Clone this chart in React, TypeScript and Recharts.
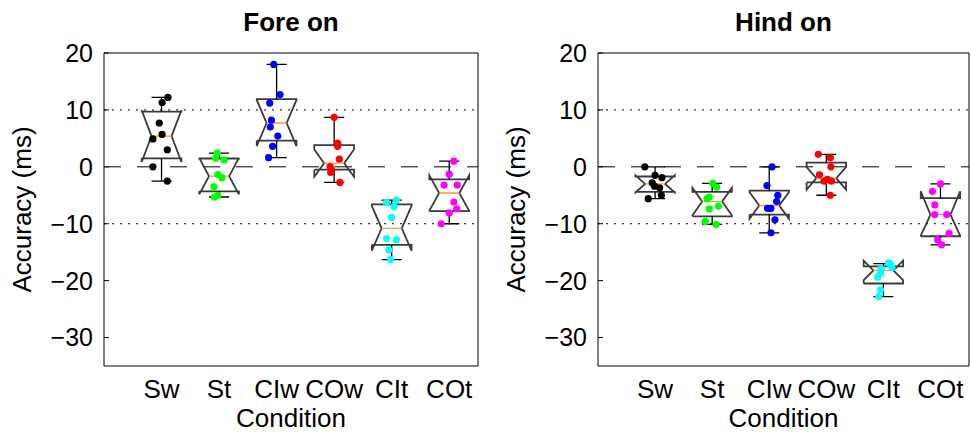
import React from 'react';
import {ComposedChart, Line, ReferenceLine, Scatter, XAxis, YAxis} from 'recharts';

const conditions = ['Sw', 'St', 'CIw', 'COw', 'CIt', 'COt'];
const groupColors = ['#000000', '#00ff00', '#0000ff', '#ff0000', '#00ffff', '#ff00ff'];
const yTicks = [-30, -20, -10, 0, 10, 20];
const xTicks = [1, 2, 3, 4, 5, 6];

// Fore on
const foreQ3 = [9.7, 1.46, 11.9, 3.8, -6.6, -2.2];
const foreMedian = [5.4, -1.64, 7.7, 0.64, -10.8, -4.6];
const foreQ1 = [1.5, -4.3, 4.6, -0.5, -13.7, -7.8];
const foreNotchHi = [9.95, 1.56, 11.75, 3.03, -6.86, -1.5];
const foreNotchLo = [0.85, -4.84, 3.65, -1.75, -14.74, -7.7];
const foreWhiskerHi = [12.2, 2.4, 18.0, 8.7, -5.85, 1.0];
const foreWhiskerLo = [-2.5, -5.3, 1.6, -2.75, -16.3, -10.0];
const forePoints = [
    [12.2, 11.3, 7.7, 5.7, 4.9, 3.0, 0.0, -2.5],
    [2.4, 1.5, 1.2, -1.35, -1.9, -3.5, -5.0, -5.3],
    [18.0, 12.7, 11.2, 8.2, 7.0, 5.4, 3.6, 1.6],
    [8.7, 4.15, 3.6, 1.34, 0.06, -0.3, -1.0, -2.75],
    [-5.85, -6.3, -7.0, -8.9, -12.6, -12.8, -14.6, -16.3],
    [1.0, -1.3, -3.2, -3.2, -6.2, -7.4, -8.1, -10.0],
];
const foreJitter = [
    [0.11, 0.01, -0.04, 0.01, -0.15, 0.10, -0.15, 0.10],
    [-0.03, -0.06, 0.09, -0.02, 0.05, -0.09, -0.02, -0.08],
    [-0.05, 0.06, -0.12, -0.09, -0.11, 0.02, -0.07, -0.14],
    [0, 0.06, 0.06, 0.09, -0.07, -0.05, -0.06, 0.10],
    [0.08, -0.09, 0.04, 0, -0.09, 0.08, -0.05, -0.02],
    [0.08, 0, -0.09, 0.14, 0.08, 0.13, 0, -0.14],
];

// Hind on
const hindQ3 = [-1.7, -4.4, -4.2, 0.75, -17.5, -5.5];
const hindMedian = [-3.0, -6.1, -6.8, -2.0, -18.2, -8.4];
const hindQ1 = [-4.4, -8.7, -8.4, -2.75, -20.5, -12.2];
const hindNotchHi = [-1.5, -3.7, -4.47, -0.06, -16.5, -4.3];
const hindNotchLo = [-4.5, -8.5, -9.13, -4.0, -19.9, -12.1];
const hindWhiskerHi = [0, -2.9, 0, 2.2, -17.0, -3.0];
const hindWhiskerLo = [-5.6, -10.1, -11.6, -5.0, -22.8, -13.7];
const hindPoints = [
    [0, -1.5, -1.9, -2.8, -3.4, -3.7, -5.0, -5.6],
    [-2.9, -3.6, -5.3, -5.6, -6.9, -7.4, -9.6, -10.1],
    [0, -3.3, -5.0, -6.1, -7.3, -7.3, -9.3, -11.6],
    [2.2, 1.6, 0, -1.4, -2.2, -2.5, -2.5, -5.0],
    [-16.9, -17.0, -17.7, -17.9, -18.7, -19.4, -21.6, -22.8],
    [-3.0, -4.3, -6.7, -8.4, -8.4, -11.7, -12.8, -13.7],
];
const hindJitter = [
    [-0.18, 0, 0.12, -0.05, -0.01, 0.08, 0.11, -0.12],
    [0.01, 0.08, -0.05, -0.09, 0.11, -0.05, -0.12, 0.07],
    [0.05, -0.04, 0.15, 0.13, -0.03, 0.03, 0.10, 0.03],
    [-0.14, 0.07, 0.08, -0.12, 0.02, -0.04, 0.09, 0.07],
    [0.09, 0.12, 0.15, -0.04, -0.05, -0.10, -0.05, -0.08],
    [0, -0.14, -0.1, -0.1, 0.11, 0.15, -0.05, 0.02],
];

const FONT = '"Liberation Sans", Arial, Helvetica, sans-serif';
const BOX_HALF = 0.345;
const WAIST = 0.175;
const CAP = 0.175;

interface PanelProps {
    title: string;
    left: number;
    width: number;
    rightMargin: number;
    q3: number[];
    median: number[];
    q1: number[];
    notchHi: number[];
    notchLo: number[];
    whiskerHi: number[];
    whiskerLo: number[];
    points: number[][];
    jitter: number[][];
}

const LeftTick = (props: any) => {
    const {x, y, payload} = props;
    return (
        <g>
            <text x={x} y={y} dy="0.355em" textAnchor="end" fontSize={25} fontFamily={FONT} fill="#000">
                {payload.value < 0 ? `\u2212${Math.abs(payload.value)}` : payload.value}
            </text>
            <line x1={x + 11} x2={x + 16} y1={y} y2={y} stroke="#000"/>
        </g>
    );
};

const RightTick = (props: any) => {
    const {x, y} = props;
    return <line x1={x - 5} x2={x} y1={y} y2={y} stroke="#000"/>;
};

const Panel = (p: PanelProps) => {
    const outline: any[] = [];
    const whiskers: any[] = [];
    const medians: any[] = [];
    conditions.forEach((_, i) => {
        const c = i + 1;
        outline.push(
            {x: c - BOX_HALF, y: p.q1[i]},
            {x: c - BOX_HALF, y: p.notchLo[i]},
            {x: c - WAIST, y: p.median[i]},
            {x: c - BOX_HALF, y: p.notchHi[i]},
            {x: c - BOX_HALF, y: p.q3[i]},
            {x: c + BOX_HALF, y: p.q3[i]},
            {x: c + BOX_HALF, y: p.notchHi[i]},
            {x: c + WAIST, y: p.median[i]},
            {x: c + BOX_HALF, y: p.notchLo[i]},
            {x: c + BOX_HALF, y: p.q1[i]},
            {x: c - BOX_HALF, y: p.q1[i]},
            {x: c, y: null},
        );
        whiskers.push(
            {x: c, y: p.q3[i]}, {x: c, y: p.whiskerHi[i]}, {x: c, y: null},
            {x: c - CAP, y: p.whiskerHi[i]}, {x: c + CAP, y: p.whiskerHi[i]}, {x: c, y: null},
            {x: c, y: p.q1[i]}, {x: c, y: p.whiskerLo[i]}, {x: c, y: null},
            {x: c - CAP, y: p.whiskerLo[i]}, {x: c + CAP, y: p.whiskerLo[i]}, {x: c, y: null},
        );
        medians.push({x: c - WAIST, y: p.median[i]}, {x: c + WAIST, y: p.median[i]}, {x: c, y: null});
    });
    const dots = p.points.map((vals, i) => vals.map((v, j) => ({x: i + 1 + p.jitter[i][j], y: v})));
    const plotWidth = p.width - 104 - 2 - p.rightMargin;

    return (
        <div style={{position: 'absolute', left: p.left, top: 0, width: p.width, height: 432}}>
            <div style={{
                position: 'absolute', left: 104, top: 7, width: plotWidth, textAlign: 'center',
                fontFamily: FONT, fontWeight: 'bold', fontSize: 26, lineHeight: '30px', color: '#000',
            }}>
                {p.title}
            </div>
            <ComposedChart width={p.width} height={432} margin={{top: 53, left: 0, right: p.rightMargin, bottom: 0}}>
                <XAxis
                    type="number"
                    dataKey="x"
                    domain={[0, 6.5]}
                    ticks={xTicks}
                    interval={0}
                    tickFormatter={(v: number) => conditions[v - 1]}
                    tickLine={false}
                    tickSize={0}
                    tickMargin={14}
                    height={66}
                    axisLine={{stroke: '#000'}}
                    tick={{fill: '#000', fontSize: 26, fontFamily: FONT}}
                    label={{
                        content: (lp: any) => {
                            const vb = lp.viewBox;
                            return (
                                <text x={vb.x + vb.width / 2} y={vb.y + 61} textAnchor="middle"
                                      fontSize={26} fontFamily={FONT} fill="#000">Condition</text>
                            );
                        },
                    }}
                />
                <YAxis
                    type="number"
                    dataKey="y"
                    domain={[-35, 20]}
                    ticks={yTicks}
                    interval={0}
                    width={104}
                    tickLine={false}
                    tickSize={0}
                    tickMargin={11}
                    axisLine={{stroke: '#000'}}
                    tick={<LeftTick/>}
                    label={{
                        content: (lp: any) => {
                            const vb = lp.viewBox;
                            const cx = vb.x + 22;
                            const cy = vb.y + vb.height / 2;
                            return (
                                <text x={cx} y={cy} transform={`rotate(-90 ${cx} ${cy})`} textAnchor="middle"
                                      dominantBaseline="central" fontSize={26} fontFamily={FONT} fill="#000">
                                    Accuracy (ms)
                                </text>
                            );
                        },
                    }}
                />
                <YAxis
                    yAxisId="r"
                    orientation="right"
                    type="number"
                    domain={[-35, 20]}
                    ticks={yTicks}
                    interval={0}
                    width={2}
                    tickLine={false}
                    tickSize={0}
                    tickMargin={0}
                    axisLine={{stroke: '#000'}}
                    tick={<RightTick/>}
                />
                <ReferenceLine y={20} stroke="#000"/>
                <ReferenceLine y={10} stroke="#000" strokeDasharray="2 6"/>
                <ReferenceLine y={-10} stroke="#000" strokeDasharray="2 6"/>
                <ReferenceLine y={0} stroke="#000" strokeDasharray="17 16"/>
                <Line data={outline} dataKey="y" type="linear" stroke="#3a3a3a" strokeWidth={1.8}
                      dot={false} activeDot={false} connectNulls={false} isAnimationActive={false}/>
                <Line data={whiskers} dataKey="y" type="linear" stroke="#000" strokeWidth={1.3}
                      dot={false} activeDot={false} connectNulls={false} isAnimationActive={false}/>
                <Line data={medians} dataKey="y" type="linear" stroke="#ff9933" strokeWidth={1.3}
                      dot={false} activeDot={false} connectNulls={false} isAnimationActive={false}/>
                {dots.map((d, i) => (
                    <Scatter
                        key={conditions[i]}
                        data={d}
                        isAnimationActive={false}
                        shape={(sp: any) => <circle cx={sp.cx} cy={sp.cy} r={3.6} fill={groupColors[i]}/>}
                    />
                ))}
            </ComposedChart>
        </div>
    );
};

export default function App() {
    return (
        <div style={{position: 'absolute', left: 0, top: 0, width: 971, height: 432, background: '#fff'}}>
            <Panel title="Fore on" left={0} width={494} rightMargin={14}
                   q3={foreQ3} median={foreMedian} q1={foreQ1} notchHi={foreNotchHi} notchLo={foreNotchLo}
                   whiskerHi={foreWhiskerHi} whiskerLo={foreWhiskerLo} points={forePoints} jitter={foreJitter}/>
            <Panel title="Hind on" left={494} width={477} rightMargin={0}
                   q3={hindQ3} median={hindMedian} q1={hindQ1} notchHi={hindNotchHi} notchLo={hindNotchLo}
                   whiskerHi={hindWhiskerHi} whiskerLo={hindWhiskerLo} points={hindPoints} jitter={hindJitter}/>
        </div>
    );
}
